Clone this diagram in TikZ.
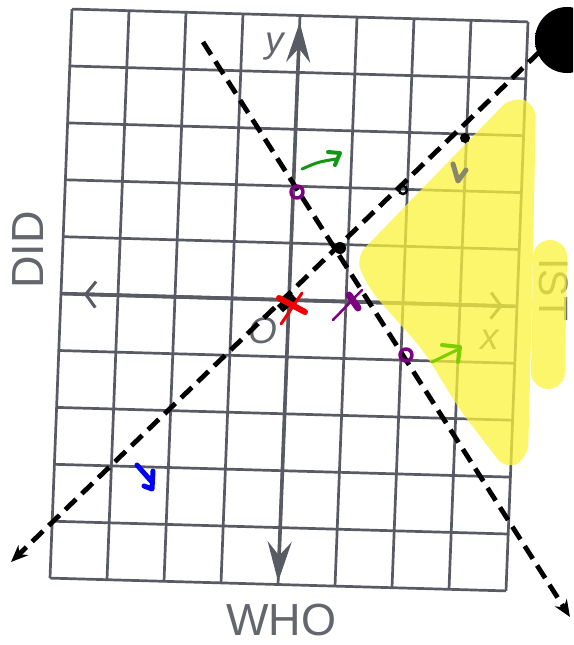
\documentclass[tikz,border=0pt]{standalone}
\usepackage{fontspec}
\setmainfont{Liberation Sans}
\usetikzlibrary{arrows.meta,calc}
\definecolor{gridgray}{RGB}{88,90,100}
\definecolor{textgray}{RGB}{100,102,110}
\definecolor{hilite}{RGB}{252,244,60}
\definecolor{penpurple}{RGB}{125,0,130}
\definecolor{pengreen}{RGB}{20,150,20}
\definecolor{penlime}{RGB}{125,205,0}
\definecolor{penblue}{RGB}{0,0,245}
\definecolor{penolive}{RGB}{135,135,105}
\definecolor{penred}{RGB}{240,0,0}
\newcommand{\bigfont}{\fontsize{45}{45}\selectfont}
\newcommand{\sidefont}{\fontsize{41}{41}\selectfont}
\newcommand{\varfont}{\fontsize{37}{37}\selectfont\itshape}
\pgfdeclareradialshading{blob}{\pgfpoint{0bp}{0bp}}{color(0bp)=(black); color(35bp)=(black); color(50bp)=(white)}
\tikzset{
  gline/.style={gridgray, line width=2.7pt},
  axisline/.style={gridgray, line width=3.6pt},
  bdash/.style={black, line width=4.8pt, dash pattern=on 15pt off 8pt},
  hl/.style={fill=hilite, fill opacity=0.75, rounded corners=14pt},
  pen/.style={line width=#1, line cap=round, line join=round},
  pen/.default=3pt,
  lbl/.style={text=textgray, inner sep=0pt},
  ytip/.style={-{Stealth[length=40pt,width=24pt,inset=14pt]}},
  xtip/.style={-{Straight Barb[length=10pt,width=26pt,line width=3pt]}},
  ltip/.style={-{Stealth[length=17pt,width=14pt]}},
}
\begin{document}
\begin{tikzpicture}[x=1pt,y=-1pt]
  \useasboundingbox (0,0) rectangle (573,645);
  \fill[white] (0,0) rectangle (573,645);
  \clip (0,0) rectangle (573,645);

  % worksheet grid, slightly tilted scan
  \begin{scope}[shift={(289,300)}, x={(57pt,-1.6pt)}, y={(2.2pt,56.9pt)}]
    \foreach \i in {-4,...,4}
      \draw[gline] (\i,-5) -- (\i,5);
    \foreach \j in {-5,...,5}
      \draw[gline] (-4,\j) -- (4,\j);
    \draw[axisline] (-4,0) -- (4,0);
    \draw[axisline, xtip] (0,0) -- (-3.6,0);
    \draw[axisline, xtip] (0,0) -- (3.75,0);
    \draw[axisline, ytip] (0,0) -- (0,4.88);
    \draw[axisline, ytip] (0,0) -- (0,-4.95);
  \end{scope}

  \node[lbl, font=\varfont] (ylab) at (275,47) {y};
  \node[lbl, font=\varfont] (xlab) at (490,340) {x};
  \node[lbl, font=\varfont] (olab) at (263,331) {O};
  \node[lbl, font=\bigfont, rotate=90, anchor=base west] (did) at (43,289) {DID};
  \node[lbl, font=\bigfont, anchor=base west] (who) at (226,635) {WHO};
  \node[lbl, font=\sidefont, rotate=-90, anchor=base west] (ist) at (539,258) {IST};

  % highlighted region
  \fill[hl] (355,258) -- (512,96) -- (536,104) -- (532,300) -- (528,458)
    -- (506,470) -- (460,410) -- (423,350) -- (370,290) -- cycle;
  \draw[hilite, opacity=0.75, line width=34pt, line cap=round] (550,257) -- (548,372);

  % boundary lines
  \coordinate (p1s) at (11,562);
  \coordinate (p1e) at (556,36);
  \coordinate (p2s) at (203,42);
  \coordinate (p2e) at (570,617);
  \draw[bdash, ltip] (p1e) -- (p1s);
  \draw[bdash, ltip] (p2s) -- (p2e);
  \shade[shading=blob] (567,40) ellipse (32pt and 33pt);

  % pen marks
  \fill (340,248) circle (6pt);
  \fill (465,138) circle (5pt);
  \draw[line width=2.5pt] (403,190) circle (4pt);
  \draw[line width=9pt] (280,309) -- (294,296);
  \draw[penred, pen=3pt] (281,324) -- (302,293);
  \draw[penred, pen=6pt] (279,298) -- (305,312);
  \draw[penpurple, pen=3.5pt] (297,192) circle (6pt);
  \draw[penpurple, pen=3.5pt] (406,355) circle (6pt);
  \draw[penpurple, pen=2.5pt] (333,320) -- (362,290);
  \draw[penpurple, pen=7pt] (349,295) -- (358,308);
  \draw[pengreen, pen=3pt] (302,169) .. controls (318,162) .. (336,159);
  \draw[pengreen, pen=4pt] (328,152) -- (340,153) -- (335,165);
  \draw[penlime, pen=3pt] (432,362) -- (457,350);
  \draw[penlime, pen=4pt] (442,345) -- (460,347) -- (458,362);
  \draw[penblue, pen=5pt] (137,465) -- (151,481);
  \draw[penblue, pen=5pt] (153,471) -- (152,489) -- (144,486);
  \draw[penolive, pen=5pt] (453,164) -- (458,181) -- (466,170);
\end{tikzpicture}
\end{document}
